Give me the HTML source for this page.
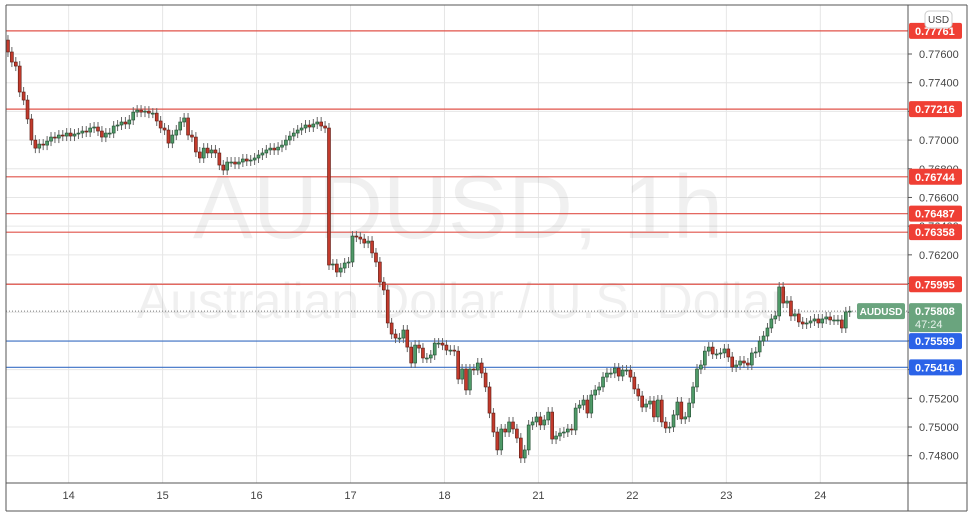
<!DOCTYPE html>
<html><head><meta charset="utf-8"><style>
html,body{margin:0;padding:0;background:#fff;}
svg{display:block;font-family:"Liberation Sans",sans-serif;}
</style></head><body>
<svg id="chart" width="974" height="516" viewBox="0 0 974 516" xmlns="http://www.w3.org/2000/svg">
<rect x="0" y="0" width="974" height="516" fill="#fff"/>
<g id="grid"></g>
<g fill="#000" fill-opacity="0.06">
<text x="458" y="238" font-size="90" text-anchor="middle">AUDUSD, 1h</text>
<text x="462" y="318" font-size="50" text-anchor="middle">Australian Dollar / U.S. Dollar</text>
</g>
<g id="levels"></g>
<g id="candles"></g>
<g id="axes"></g>
</svg>
<script>
const NS='http://www.w3.org/2000/svg';
const firstOpen=0.77697;
const closes=[
.77614,.77544,.77516,.77335,.77279,.77147,.77000,.76944,.76972,.76965,.76993,.77021,.77014,.77035,.77028,.77049,
.77028,.77042,.77049,.77063,.77056,.77084,.77091,.77063,.77021,.77049,.77049,.77098,.77105,.77126,.77112,.77140,.77195,.77209,.77195,.77202,.77188,.77188,.77133,.77084,
.77070,.76979,.77035,.77070,.77126,.77154,.77035,.77021,.76917,.76875,.76944,.76910,.76931,.76910,.76826,.76791,.76847,.76847,.76833,.76847,.76868,.76854,.76861,.76875,
.76896,.76910,.76931,.76944,.76931,.76951,.76965,.77000,.77028,.77049,.77070,.77084,.77105,.77091,.77112,.77126,.77098,.77084,.76129,.76136,.76080,.76108,.76143,.76150,
.76331,.76324,.76310,.76282,.76296,.76213,.76150,.76010,.75955,.75725,.75648,.75620,.75620,.75676,.75557,.75446,.75571,.75550,.75481,.75481,.75502,.75585,.75585,.75571,
.75536,.75536,.75529,.75334,.75404,.75258,.75404,.75397,.75446,.75376,.75279,.75097,.74965,.74840,.74986,.74965,.75035,.74986,.74923,.74784,.74840,.75014,.75035,.75070,
.75014,.75049,.75104,.74916,.74937,.74958,.74965,.74986,.74979,.75132,.75153,.75188,.75097,.75223,.75258,.75279,.75348,.75376,.75376,.75411,.75355,.75397,.75397,.75348,
.75265,.75216,.75139,.75160,.75181,.75070,.75188,.75035,.74993,.75000,.75084,.75174,.75056,.75070,.75167,.75279,.75404,.75432,.75529,.75557,.75509,.75509,.75516,.75544,
.75488,.75418,.75432,.75460,.75446,.75432,.75516,.75523,.75599,.75634,.75690,.75753,.75774,.75976,.75864,.75878,.75774,.75788,.75732,.75718,.75725,.75739,.75753,.75725,
.75753,.75767,.75746,.75746,.75746,.75690,.75802,.75808
];
const dayLabels=['14','15','16','17','18','21','22','23','24'];
const dayStartIdx=[16,40,64,88,112,136,160,184,208];
const yTicks=[0.776,0.774,0.772,0.770,0.768,0.766,0.764,0.762,0.760,0.758,0.756,0.754,0.752,0.750,0.748];
const resistance=[0.77761,0.77216,0.76744,0.76487,0.76358,0.75995];
const support=[0.75599,0.75416];
const lastPrice=0.75808;

const X0=6,STEP=3.915,PR=908,PT=5,PB=483;
const xAt=i=>X0+i*STEP;
const yAt=p=>54+(0.776-p)*14346;
function mk(tag,attrs,parent){const e=document.createElementNS(NS,tag);for(const k in attrs)e.setAttribute(k,attrs[k]);parent.appendChild(e);return e;}
const grid=document.getElementById('grid'),lv=document.getElementById('levels'),cg=document.getElementById('candles'),ax=document.getElementById('axes');

yTicks.forEach(t=>{const l=mk('line',{x1:X0,x2:PR,y1:yAt(t),y2:yAt(t),stroke:'#e6e6e6','stroke-width':1},grid);

});
dayStartIdx.forEach(i=>{const l=mk('line',{x1:xAt(i),x2:xAt(i),y1:PT,y2:PB,stroke:'#e6e6e6','stroke-width':1},grid);

});

resistance.forEach(p=>{const l=mk('line',{x1:X0,x2:PR,y1:yAt(p),y2:yAt(p),stroke:'#e0534a','stroke-width':1.2},lv);

});
support.forEach(p=>{const l=mk('line',{x1:X0,x2:PR,y1:yAt(p),y2:yAt(p),stroke:'#3a6fc4','stroke-width':1.2},lv);

});
const dl=mk('line',{x1:X0,x2:PR,y1:yAt(lastPrice),y2:yAt(lastPrice),stroke:'#777','stroke-width':1,'stroke-dasharray':'1,2'},lv);



closes.forEach((c,i)=>{
  const o=i===0?firstOpen:closes[i-1];
  const up=c>=o;
  const cx=xAt(i)+STEP/2;
  const top=yAt(Math.max(o,c)),bot=yAt(Math.min(o,c));
  const w=mk('line',{x1:cx,x2:cx,y1:top-5,y2:bot+5,stroke:'#666','stroke-width':1},cg);
  
  
  const b=mk('rect',{x:cx-1.5,y:top,width:3,height:Math.max(1,bot-top),fill:up?'#4f9a68':'#c23a2c',stroke:up?'#1f4a2e':'#5a1a12','stroke-width':0.6},cg);
  
  
});

[[X0,PT,967,PT],[X0,511,967,511],[X0,PT,X0,511],[967,PT,967,511],[PR,PT,PR,511],[X0,PB,967,PB]].forEach(a=>{
  const l=mk('line',{x1:a[0],y1:a[1],x2:a[2],y2:a[3],stroke:'#555','stroke-width':1},ax);
  
  });

yTicks.forEach(t=>{
  const tk=mk('line',{x1:PR,x2:PR+4,y1:yAt(t),y2:yAt(t),stroke:'#555'},ax);
  
  
  const tx=mk('text',{x:PR+11,y:yAt(t)+4,'font-size':11,fill:'#444'},ax);tx.textContent=t.toFixed(5);
  
  
});
dayLabels.forEach((d,k)=>{
  const tx=mk('text',{x:xAt(dayStartIdx[k]),y:499,'font-size':11,fill:'#444','text-anchor':'middle'},ax);tx.textContent=d;
  
  
});
function box(p,col,name){
  const y=yAt(p);
  const r=mk('rect',{x:PR+1,y:y-8,width:53,height:16,rx:2,fill:col},ax);
  
  
  const t=mk('text',{x:PR+7,y:y+4,'font-size':11,'font-weight':'bold',fill:'#fff'},ax);t.textContent=p.toFixed(5);
  
  
}
resistance.forEach(p=>box(p,'#ef3f34','resistance-price'));
support.forEach(p=>box(p,'#2b63e8','support-price'));
const ly=yAt(lastPrice);
const lr=mk('rect',{x:PR+1,y:ly-8,width:53,height:29,rx:2,fill:'#6aa47e'},ax);


const lt=mk('text',{x:PR+7,y:ly+4,'font-size':11,'font-weight':'bold',fill:'#fff'},ax);lt.textContent=lastPrice.toFixed(5);


const ct=mk('text',{x:PR+7,y:ly+17,'font-size':11,fill:'#e8f3ec'},ax);ct.textContent='47:24';


const sr=mk('rect',{x:857,y:ly-8,width:48,height:16,rx:2,fill:'#6aa47e'},ax);


const st=mk('text',{x:881,y:ly+4,'font-size':10,'font-weight':'bold',fill:'#fff','text-anchor':'middle'},ax);st.textContent='AUDUSD';


const ur=mk('rect',{x:925,y:11,width:27,height:17,rx:4,fill:'#fff',stroke:'#ccc'},ax);


const ut=mk('text',{x:938.5,y:23,'font-size':10,fill:'#444','text-anchor':'middle'},ax);ut.textContent='USD';


</script>
</body></html>
